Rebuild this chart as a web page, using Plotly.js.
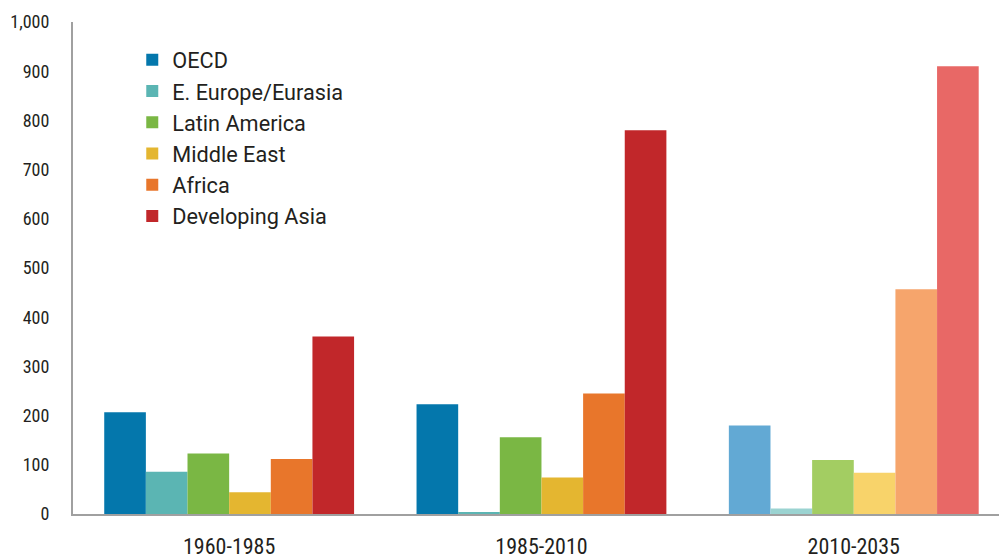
<!DOCTYPE html>
<html>
<head>
<meta charset="utf-8">
<script src="https://cdn.plot.ly/plotly-3.0.1.min.js"></script>
<style>
  html, body { margin: 0; padding: 0; background: #fff; }
  #chart { width: 999px; height: 558px; }
</style>
</head>
<body>
<div id="chart"></div>
<script>
// Periods on the category axis
const periods = ['1960-1985', '1985-2010', '2010-2035'];

// Regions and their values per period
const regions = ['OECD', 'E. Europe/Eurasia', 'Latin America', 'Middle East', 'Africa', 'Developing Asia'];
const oecd = [207, 223, 180];
const eEurope = [86, 4, 11];
const latinAmerica = [123, 156, 110];
const middleEast = [44, 74, 84];
const africa = [112, 245, 457];
const developingAsia = [361, 780, 910];

// Y axis ticks
const yTicks = [0, 100, 200, 300, 400, 500, 600, 700, 800, 900, 1000];

// Colours: full tone for past periods, lighter tone for the projection
const baseColors = ['#0477ac', '#5bb5b3', '#7ab744', '#e4b630', '#e8762b', '#c1272a'];
const lightColors = ['#62a9d4', '#9bd3d1', '#a3cd62', '#f8d36a', '#f6a56c', '#e86866'];

const series = [oecd, eEurope, latinAmerica, middleEast, africa, developingAsia];

const fontFamily = '"Roboto Condensed", "Liberation Sans Narrow", "DejaVu Sans Condensed", Roboto, sans-serif';
const legendFamily = 'Roboto, "Roboto Condensed", sans-serif';
const textColor = '#231f20';

const traces = series.map((vals, i) => ({
  type: 'bar',
  name: regions[i],
  x: periods,
  y: vals,
  marker: {
    color: periods.map((p, j) => j === periods.length - 1 ? lightColors[i] : baseColors[i]),
    line: { width: 0 }
  },
  hoverinfo: 'x+y+name'
}));

const layout = {
  width: 999,
  height: 558,
  margin: { l: 73, r: 0, t: 22, b: 44, pad: 0 },
  paper_bgcolor: '#ffffff',
  plot_bgcolor: '#ffffff',
  barmode: 'group',
  bargap: 0.2,
  bargroupgap: 0,
  font: { family: fontFamily, color: textColor },
  showlegend: true,
  legend: {
    x: 0.064,
    y: 0.965,
    xanchor: 'left',
    yanchor: 'top',
    bgcolor: 'rgba(0,0,0,0)',
    font: { size: 21.7, family: legendFamily, color: textColor },
    itemwidth: 30,
    traceorder: 'normal'
  },
  xaxis: {
    type: 'category',
    range: [-0.5, 2.465],
    showline: true,
    linecolor: '#a0a0a0',
    linewidth: 2,
    showgrid: false,
    zeroline: false,
    ticks: 'outside',
    ticklen: 12,
    tickcolor: 'rgba(0,0,0,0)',
    tickfont: { size: 22, family: fontFamily, color: textColor }
  },
  yaxis: {
    range: [0, 1000],
    tickvals: yTicks,
    tickformat: ',',
    showline: true,
    linecolor: '#a0a0a0',
    linewidth: 2,
    showgrid: false,
    zeroline: false,
    ticks: 'outside',
    ticklen: 18,
    tickcolor: 'rgba(0,0,0,0)',
    tickfont: { size: 18, family: fontFamily, color: textColor }
  }
};

Plotly.newPlot('chart', traces, layout, { displayModeBar: false, staticPlot: true });
</script>
</body>
</html>
